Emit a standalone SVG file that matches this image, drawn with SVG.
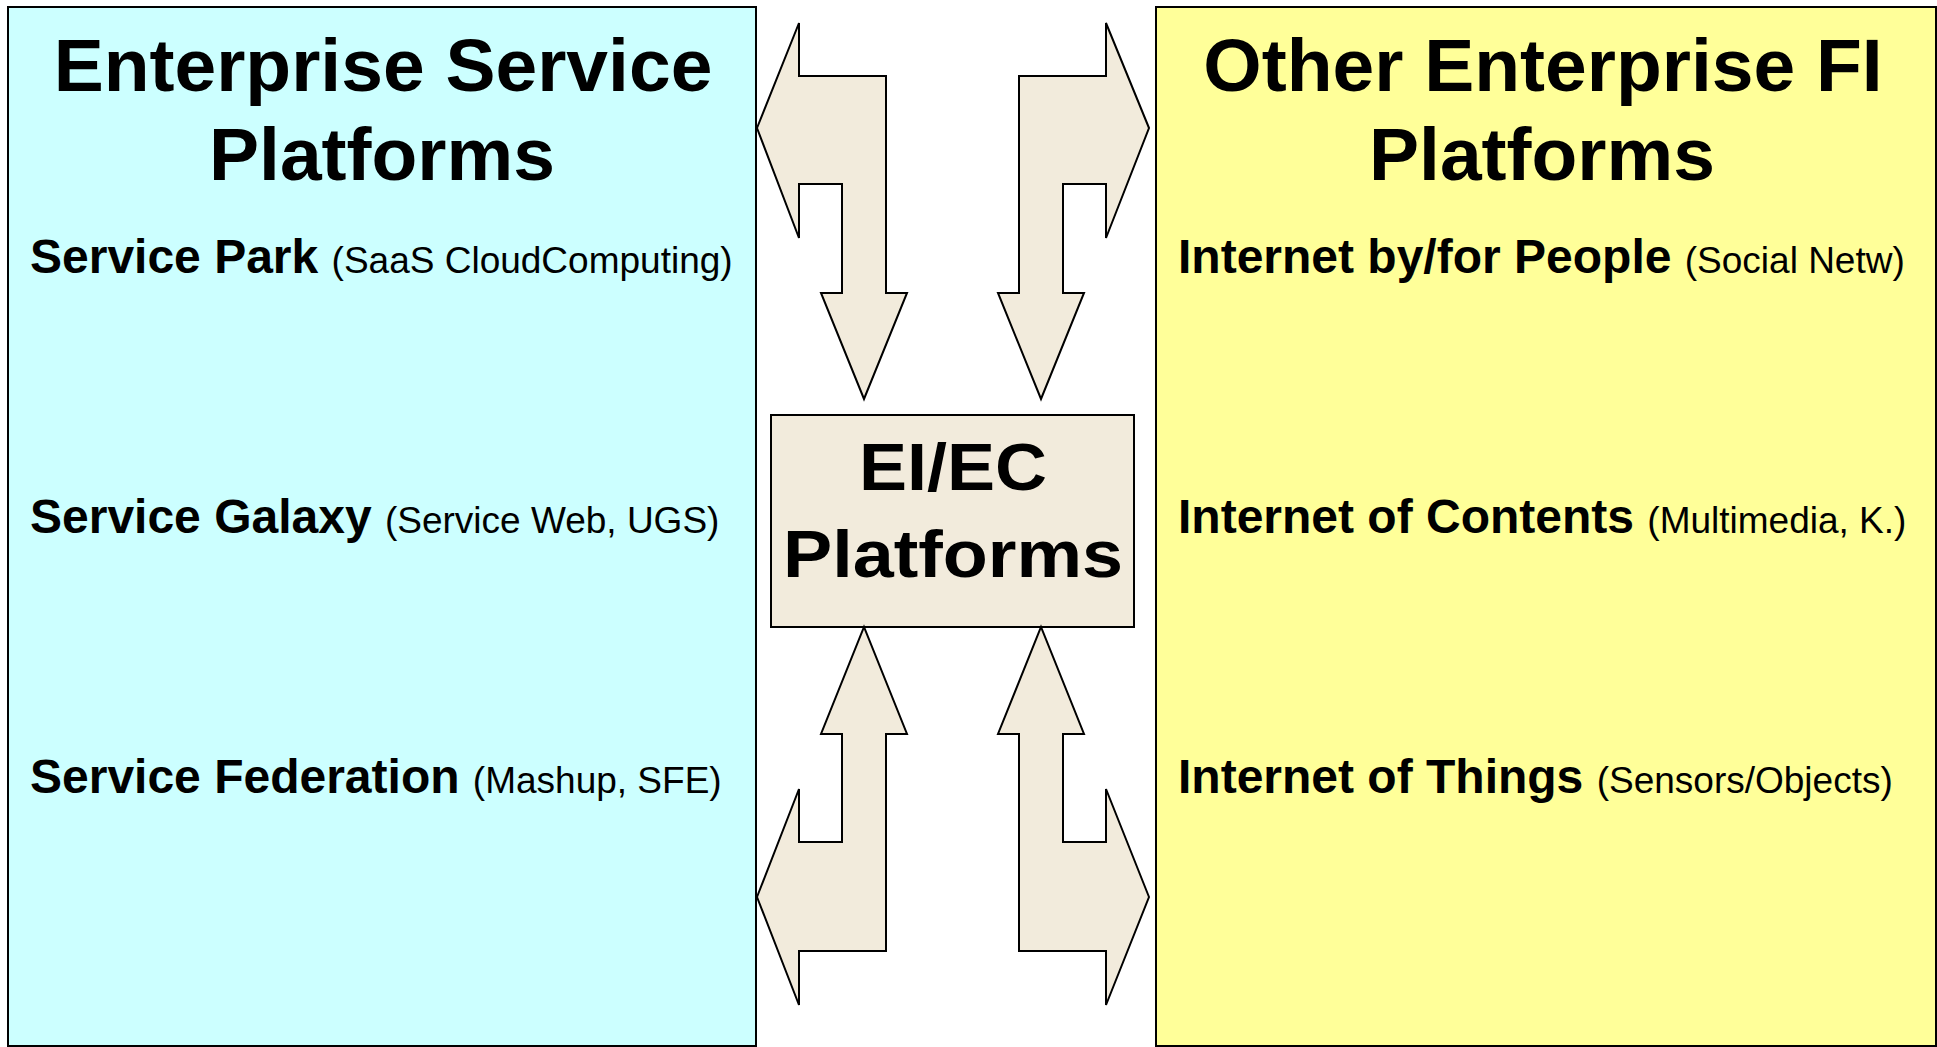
<svg xmlns="http://www.w3.org/2000/svg" width="1937" height="1047" viewBox="0 0 1937 1047">
<style>
  .panel { stroke: #000; stroke-width: 2; }
  .arrow { fill: #F2EBDC; stroke: #000; stroke-width: 2; stroke-linejoin: miter; }
  .title { font-family: "Liberation Sans", Arial, sans-serif; font-weight: bold; font-size: 75px; fill: #000; text-anchor: middle; }
  .item { font-family: "Liberation Sans", Arial, sans-serif; font-size: 48px; fill: #000; }
  .b { font-weight: bold; }
  .sub { font-weight: normal; font-size: 37px; }
  .center { font-family: "Liberation Sans", Arial, sans-serif; font-weight: bold; font-size: 67px; fill: #000; text-anchor: middle; }
</style>
<rect width="1937" height="1047" fill="#FFFFFF"/>

<g id="enterprise-service-platforms">
  <rect class="panel" x="8" y="7" width="748" height="1039" fill="#CCFFFF"/>
  <text class="title" x="383" y="91">Enterprise Service</text>
  <text class="title" x="382" y="180">Platforms</text>
  <text class="item" x="30" y="273"><tspan class="b">Service Park</tspan> <tspan class="sub">(SaaS CloudComputing)</tspan></text>
  <text class="item" x="30" y="533"><tspan class="b">Service Galaxy</tspan> <tspan class="sub">(Service Web, UGS)</tspan></text>
  <text class="item" x="30" y="793"><tspan class="b">Service Federation</tspan> <tspan class="sub">(Mashup, SFE)</tspan></text>
</g>

<g id="other-enterprise-fi-platforms">
  <rect class="panel" x="1156" y="7" width="780" height="1039" fill="#FFFF99"/>
  <text class="title" x="1543" y="91">Other Enterprise FI</text>
  <text class="title" x="1542" y="180">Platforms</text>
  <text class="item" x="1178" y="273"><tspan class="b">Internet by/for People</tspan> <tspan class="sub">(Social Netw)</tspan></text>
  <text class="item" x="1178" y="533"><tspan class="b">Internet of Contents</tspan> <tspan class="sub">(Multimedia, K.)</tspan></text>
  <text class="item" x="1178" y="793"><tspan class="b">Internet of Things</tspan> <tspan class="sub">(Sensors/Objects)</tspan></text>
</g>

<g id="ei-ec-platforms">
  <rect x="771" y="415" width="363" height="212" fill="#F2EBDC" stroke="#000" stroke-width="2"/>
  <text class="center" x="953" y="490" textLength="188" lengthAdjust="spacingAndGlyphs">EI/EC</text>
  <text class="center" x="953" y="577" textLength="340" lengthAdjust="spacingAndGlyphs">Platforms</text>
</g>

<g id="connectors">
  <polygon class="arrow" points="757,128 799,23 799,76 886,76 886,293 907,293 864,399 821,293 842,293 842,184 799,184 799,238"/>
  <polygon class="arrow" points="1149,128 1106,23 1106,76 1019,76 1019,293 998,293 1041,399 1084,293 1063,293 1063,184 1106,184 1106,238"/>
  <polygon class="arrow" points="757,897 799,789 799,842 842,842 842,734 821,734 864,627 907,734 886,734 886,951 799,951 799,1005"/>
  <polygon class="arrow" points="1149,897 1106,789 1106,842 1063,842 1063,734 1084,734 1041,627 998,734 1019,734 1019,951 1106,951 1106,1005"/>
</g>
</svg>
